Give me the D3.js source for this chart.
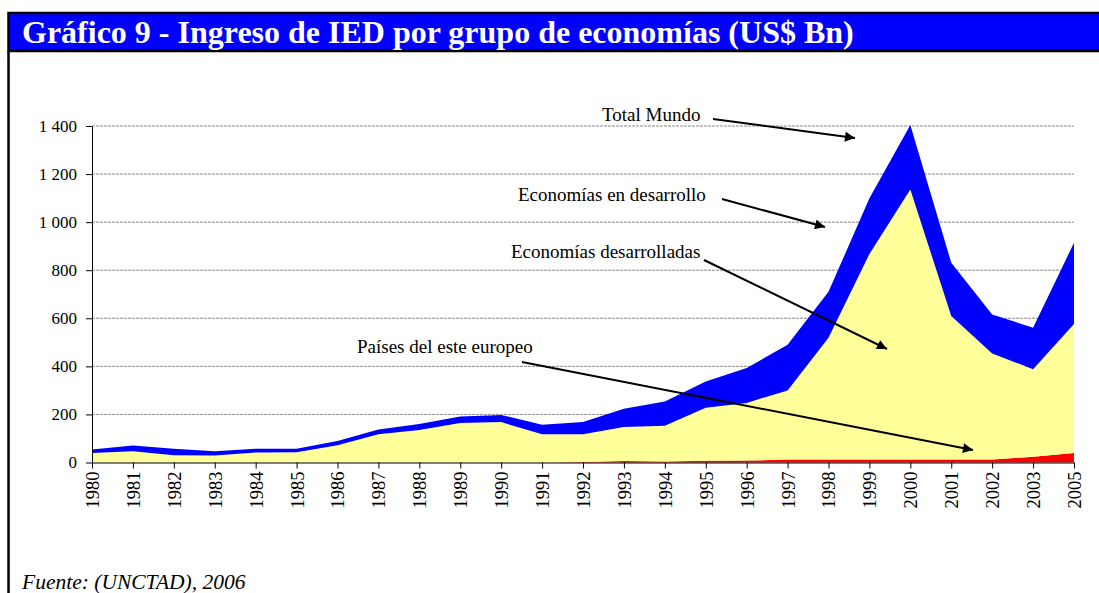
<!DOCTYPE html>
<html>
<head>
<meta charset="utf-8">
<script src="https://cdn.jsdelivr.net/npm/d3@7"></script>
<style>
  body { margin: 0; background: #fff; }
  svg text { font-family: "Liberation Serif", "Times New Roman", serif; }
</style>
</head>
<body>
<div id="chart"></div>
<script>
// Years on the category axis (2004 is not in the source table)
const years = ["1980", "1981", "1982", "1983", "1984", "1985", "1986", "1987", "1988",
  "1989", "1990", "1991", "1992", "1993", "1994", "1995", "1996", "1997", "1998",
  "1999", "2000", "2001", "2002", "2003", "2005"];

// Stacked bands, US$ Bn
const esteEuropeo = [0, 0, 0, 0, 0, 0, 0, 0, 0, 0, 0, 0, 2, 6, 4, 7, 8, 12, 12, 12, 12, 12, 12, 24, 40];
const desarrolladas = [40, 47, 30, 29, 42, 43, 72, 118, 135, 164, 168, 118, 116, 142, 149, 221, 240, 288, 507, 855, 1124, 597, 442, 364, 536];
const enDesarrollo = [14, 24, 27, 18, 15, 14, 17, 19, 25, 27, 30, 39, 50, 76, 101, 109, 145, 190, 191, 232, 268, 222, 162, 173, 338];

const yTicks = [0, 200, 400, 600, 800, 1000, 1200, 1400];

const width = 1099, height = 593;
const serif = "'Liberation Serif', 'Times New Roman', serif";

const svg = d3.select("#chart").append("svg")
  .attr("width", width)
  .attr("height", height);

// Title bar + left frame line
svg.append("rect")
  .attr("x", 8.5).attr("y", 13)
  .attr("width", 1110).attr("height", 38)
  .attr("fill", "#0000ff")
  .attr("stroke", "#000")
  .attr("stroke-width", 2.5);

svg.append("line")
  .attr("x1", 8.5).attr("x2", 8.5)
  .attr("y1", 51).attr("y2", height)
  .attr("stroke", "#000")
  .attr("stroke-width", 2.5);

svg.append("text")
  .attr("x", 22).attr("y", 43)
  .attr("fill", "#fff")
  .attr("font-family", serif)
  .attr("font-size", 32)
  .attr("font-weight", "bold")
  .text("Gráfico 9 - Ingreso de IED por grupo de economías (US$ Bn)");

svg.append("text")
  .attr("x", 22).attr("y", 589)
  .attr("font-family", serif)
  .attr("font-size", 21.5)
  .attr("font-style", "italic")
  .text("Fuente: (UNCTAD), 2006");

// Scales
const x = d3.scalePoint().domain(years).range([92, 1074]);
const y = d3.scaleLinear().domain([0, 1400]).range([462.5, 126]);

// Grid lines
svg.append("g")
  .selectAll("line")
  .data(yTicks.filter((d) => d > 0))
  .join("line")
  .attr("x1", x.range()[0]).attr("x2", x.range()[1])
  .attr("y1", (d) => y(d)).attr("y2", (d) => y(d))
  .attr("stroke", "#8a8a8a")
  .attr("stroke-width", 1)
  .attr("stroke-dasharray", "3,1");

// Stack
const table = years.map((yr, i) => ({
  year: yr,
  este: esteEuropeo[i],
  desarrolladas: desarrolladas[i],
  desarrollo: enDesarrollo[i],
}));
const keys = ["este", "desarrolladas", "desarrollo"];
const colors = { este: "#ff0000", desarrolladas: "#ffff99", desarrollo: "#0000ff" };
const series = d3.stack().keys(keys)(table);

const area = d3.area()
  .x((d) => x(d.data.year))
  .y0((d) => y(d[0]))
  .y1((d) => y(d[1]));

svg.append("g")
  .selectAll("path")
  .data(series)
  .join("path")
  .attr("fill", (s) => colors[s.key])
  .attr("d", area);

// Axes
const fmt = d3.formatLocale({ decimal: ",", thousands: " ", grouping: [3], currency: ["", ""] }).format(",d");

const yAxis = svg.append("g")
  .attr("transform", `translate(${x.range()[0]},0)`)
  .call(d3.axisLeft(y).tickValues(yTicks).tickFormat(fmt).tickSize(6).tickSizeOuter(0).tickPadding(9))
  .attr("font-family", serif);
yAxis.selectAll("text")
  .attr("font-family", serif)
  .attr("font-size", 17)
  .attr("fill", "#000");

const xAxis = svg.append("g")
  .attr("transform", `translate(0,${y(0)})`)
  .call(d3.axisBottom(x).tickSize(6).tickSizeOuter(0))
  .attr("font-family", serif);
xAxis.selectAll("text")
  .attr("font-family", serif)
  .attr("font-size", 18.5)
  .attr("fill", "#000")
  .attr("x", -9)
  .attr("y", 0)
  .attr("dy", "0.35em")
  .attr("transform", "rotate(-90)")
  .style("text-anchor", "end");

svg.selectAll(".domain, .tick line").attr("stroke", "#000");

// Annotations with arrows
const defs = svg.append("defs");
defs.append("marker")
  .attr("id", "arrow")
  .attr("viewBox", "0 0 10 10")
  .attr("refX", 10).attr("refY", 5)
  .attr("markerWidth", 6).attr("markerHeight", 5)
  .attr("markerUnits", "strokeWidth")
  .attr("orient", "auto")
  .append("path")
  .attr("d", "M0,0 L10,5 L0,10 z")
  .attr("fill", "#000");

const notes = [
  { text: "Total Mundo", tx: 602, ty: 121, x1: 713, y1: 119, x2: 855, y2: 138 },
  { text: "Economías en desarrollo", tx: 518, ty: 201, x1: 722, y1: 199, x2: 825, y2: 227 },
  { text: "Economías desarrolladas", tx: 511, ty: 258, x1: 704, y1: 260, x2: 887, y2: 349 },
  { text: "Países del este europeo", tx: 357, ty: 353, x1: 522, y1: 362, x2: 973, y2: 450 },
];

const g = svg.append("g");
g.selectAll("text")
  .data(notes)
  .join("text")
  .attr("x", (d) => d.tx).attr("y", (d) => d.ty)
  .attr("font-family", serif)
  .attr("font-size", 19)
  .text((d) => d.text);

g.selectAll("line")
  .data(notes)
  .join("line")
  .attr("x1", (d) => d.x1).attr("y1", (d) => d.y1)
  .attr("x2", (d) => d.x2).attr("y2", (d) => d.y2)
  .attr("stroke", "#000")
  .attr("stroke-width", 2)
  .attr("marker-end", "url(#arrow)");
</script>
</body>
</html>
